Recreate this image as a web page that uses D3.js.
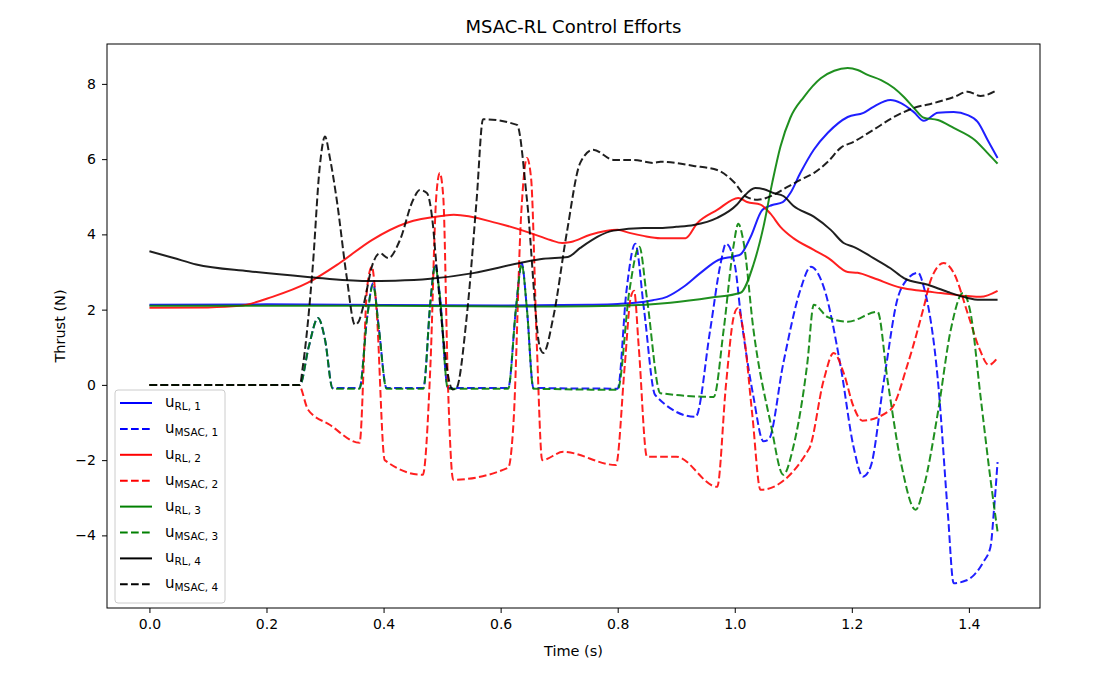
<!DOCTYPE html>
<html>
<head>
<meta charset="utf-8">
<script src="https://cdn.jsdelivr.net/npm/d3@7"></script>
<style>
  body { margin: 0; background: white; }
  text { font-family: "DejaVu Sans", sans-serif; fill: #000; }
</style>
</head>
<body>
<div id="container"></div>
<script>
// values: [time (s), thrust (N)]
let rl1 = [[0,2.13],[0.2,2.14],[0.4,2.12],[0.6,2.11],[0.75,2.13],[0.8,2.15],[0.83,2.18],[0.86,2.25],[0.884,2.34],[0.912,2.6],[0.941,2.97],[0.972,3.32],[1.0,3.42],[1.01,3.47],[1.027,3.93],[1.047,4.65],[1.064,4.78],[1.082,4.86],[1.095,5.1],[1.112,5.63],[1.135,6.25],[1.159,6.7],[1.193,7.12],[1.22,7.23],[1.237,7.39],[1.266,7.57],[1.284,7.49],[1.306,7.25],[1.323,7.02],[1.347,7.23],[1.374,7.25],[1.398,7.17],[1.415,6.99],[1.432,6.51],[1.449,6.03]];

let msac1 = [[0,0],[0.257,0],[0.272,1.0],[0.288,1.78],[0.3,1.2],[0.313,-0.08],[0.359,-0.08],[0.372,1.8],[0.382,2.7],[0.392,1.5],[0.405,-0.08],[0.468,-0.08],[0.48,2.2],[0.488,3.2],[0.496,2.4],[0.51,-0.08],[0.613,-0.08],[0.626,2.0],[0.636,3.24],[0.645,2.0],[0.656,-0.08],[0.8,-0.1],[0.815,2.5],[0.83,3.75],[0.845,2.0],[0.864,-0.27],[0.933,-0.85],[0.958,1.46],[0.976,3.24],[0.985,3.75],[1.0,3.2],[1.01,1.9],[1.032,-0.32],[1.049,-1.5],[1.058,-1.45],[1.083,0.58],[1.112,2.52],[1.13,3.14],[1.152,2.6],[1.181,0.48],[1.203,-1.65],[1.219,-2.44],[1.232,-2.18],[1.255,0.13],[1.279,2.34],[1.29,2.71],[1.313,2.98],[1.323,2.6],[1.347,0.13],[1.364,-3.4],[1.374,-5.27],[1.395,-5.2],[1.409,-5.05],[1.425,-4.7],[1.437,-4.3],[1.443,-3.3],[1.449,-2.05]];

let rl2 = [[0,2.05],[0.1,2.06],[0.154,2.1],[0.21,2.34],[0.27,2.71],[0.325,3.24],[0.38,3.85],[0.44,4.31],[0.5,4.49],[0.52,4.52],[0.594,4.3],[0.65,4.04],[0.685,3.85],[0.705,3.77],[0.72,3.8],[0.753,3.99],[0.8,4.12],[0.82,4.04],[0.844,3.96],[0.873,3.9],[0.916,3.9],[0.936,4.3],[0.97,4.65],[1.006,4.97],[1.021,4.86],[1.044,4.79],[1.061,4.55],[1.078,4.2],[1.1,3.9],[1.135,3.59],[1.16,3.37],[1.193,3.0],[1.21,2.98],[1.237,2.84],[1.284,2.58],[1.318,2.5],[1.352,2.44],[1.398,2.36],[1.42,2.34],[1.449,2.5]];

let msac2 = [[0,0],[0.255,0],[0.271,-0.66],[0.308,-1.06],[0.359,-1.54],[0.372,2.6],[0.38,3.14],[0.388,2.0],[0.402,-2.0],[0.467,-2.39],[0.48,0.5],[0.49,5.0],[0.496,5.63],[0.502,5.0],[0.51,0],[0.519,-2.52],[0.613,-2.2],[0.622,-1.0],[0.635,4.5],[0.645,6.03],[0.652,5.5],[0.662,1.0],[0.671,-2.0],[0.707,-1.78],[0.797,-2.13],[0.812,0.5],[0.822,2.3],[0.828,2.5],[0.836,1.0],[0.85,-1.91],[0.9,-1.91],[0.97,-2.71],[0.985,0.0],[0.998,1.8],[1.005,2.04],[1.015,1.4],[1.03,-0.8],[1.044,-2.79],[1.127,-1.7],[1.152,0.13],[1.169,0.85],[1.186,0.32],[1.203,-0.58],[1.218,-0.95],[1.266,-0.66],[1.296,0.58],[1.323,2.07],[1.335,2.79],[1.357,3.24],[1.374,2.98],[1.398,1.9],[1.417,1.0],[1.434,0.53],[1.449,0.72]];

let rl3 = [[0,2.1],[0.4,2.1],[0.7,2.08],[0.8,2.1],[0.89,2.18],[0.96,2.32],[1.01,2.45],[1.032,3.2],[1.049,4.2],[1.064,5.37],[1.078,6.33],[1.095,7.1],[1.118,7.65],[1.147,8.15],[1.17,8.35],[1.193,8.42],[1.21,8.37],[1.227,8.24],[1.25,8.1],[1.272,7.89],[1.289,7.65],[1.306,7.36],[1.323,7.1],[1.347,7.04],[1.374,6.83],[1.41,6.51],[1.432,6.16],[1.449,5.88]];

let msac3 = [[0,0],[0.257,0],[0.272,1.0],[0.288,1.78],[0.3,1.2],[0.313,-0.1],[0.359,-0.1],[0.372,1.8],[0.382,2.65],[0.392,1.5],[0.405,-0.1],[0.468,-0.1],[0.48,2.2],[0.488,3.15],[0.496,2.4],[0.51,-0.1],[0.613,-0.1],[0.626,2.0],[0.636,3.2],[0.645,2.0],[0.656,-0.1],[0.8,-0.13],[0.82,2.5],[0.837,3.67],[0.85,2.3],[0.873,-0.22],[0.964,-0.32],[0.981,1.46],[0.998,3.7],[1.006,4.28],[1.015,3.8],[1.032,1.46],[1.061,-1.0],[1.083,-2.39],[1.1,-1.65],[1.124,0.58],[1.135,2.13],[1.159,1.8],[1.193,1.68],[1.244,1.94],[1.261,0.13],[1.284,-2.07],[1.309,-3.32],[1.323,-2.71],[1.347,-0.74],[1.369,1.46],[1.39,2.44],[1.403,1.9],[1.42,-0.32],[1.437,-2.52],[1.449,-3.9]];

let rl4 = [[0,3.55],[0.04,3.38],[0.08,3.2],[0.17,3.02],[0.27,2.87],[0.37,2.76],[0.42,2.77],[0.48,2.82],[0.553,2.97],[0.633,3.24],[0.673,3.35],[0.715,3.4],[0.736,3.64],[0.793,4.1],[0.844,4.17],[0.873,4.17],[0.9,4.2],[0.93,4.25],[0.97,4.44],[1.003,4.78],[1.015,5.0],[1.035,5.23],[1.05,5.2],[1.066,5.1],[1.083,5.02],[1.1,4.76],[1.135,4.47],[1.164,4.12],[1.186,3.77],[1.203,3.67],[1.237,3.37],[1.266,3.1],[1.289,2.84],[1.33,2.66],[1.364,2.47],[1.398,2.31],[1.415,2.26],[1.449,2.26]];

let msac4 = [[0,0],[0.257,0],[0.262,0.48],[0.279,3.14],[0.291,5.8],[0.3,6.6],[0.308,6.06],[0.32,4.92],[0.337,2.87],[0.351,1.6],[0.358,1.7],[0.365,2.07],[0.382,3.24],[0.394,3.5],[0.408,3.37],[0.428,3.85],[0.45,4.9],[0.462,5.18],[0.474,5.1],[0.484,4.3],[0.49,3.24],[0.518,-0.12],[0.524,-0.1],[0.542,1.8],[0.559,4.92],[0.57,7.06],[0.628,6.91],[0.645,4.92],[0.667,1.0],[0.673,0.85],[0.69,1.8],[0.713,4.04],[0.736,5.9],[0.758,6.25],[0.793,5.98],[0.827,5.98],[0.861,5.9],[0.873,5.93],[0.93,5.82],[0.97,5.71],[0.998,5.4],[1.02,5.0],[1.039,4.92],[1.066,5.05],[1.09,5.26],[1.112,5.45],[1.135,5.63],[1.159,5.93],[1.181,6.3],[1.203,6.46],[1.237,6.78],[1.272,7.12],[1.306,7.36],[1.34,7.49],[1.374,7.65],[1.398,7.79],[1.42,7.68],[1.449,7.84]];

let xTicks = [0, 0.2, 0.4, 0.6, 0.8, 1.0, 1.2, 1.4];
let yTicks = [-4, -2, 0, 2, 4, 6, 8];

let series = [
  { data: rl1,   color: "#0000ff", dashed: false, sub: "RL, 1" },
  { data: msac1, color: "#0000ff", dashed: true,  sub: "MSAC, 1" },
  { data: rl2,   color: "#ff0000", dashed: false, sub: "RL, 2" },
  { data: msac2, color: "#ff0000", dashed: true,  sub: "MSAC, 2" },
  { data: rl3,   color: "#008000", dashed: false, sub: "RL, 3" },
  { data: msac3, color: "#008000", dashed: true,  sub: "MSAC, 3" },
  { data: rl4,   color: "#000000", dashed: false, sub: "RL, 4" },
  { data: msac4, color: "#000000", dashed: true,  sub: "MSAC, 4" }
];

let w = 1099;
let h = 674;
let plotLeft = 107, plotRight = 1040, plotTop = 44, plotBottom = 608;

let viz = d3.select("#container")
  .append("svg")
    .attr("width", w)
    .attr("height", h)
    .style("background-color", "white")
;

let xScale = d3.scaleLinear().domain([-0.0725, 1.5215]).range([plotLeft, plotRight]);
let yScale = d3.scaleLinear().domain([-5.93, 9.06]).range([plotBottom, plotTop]);

// lines
let line = d3.line()
  .x(d => xScale(d[0]))
  .y(d => yScale(d[1]))
  .curve(d3.curveMonotoneX);

viz.selectAll(".series").data(series).enter()
  .append("path")
    .classed("series", true)
    .attr("d", d => line(d.data))
    .attr("fill", "none")
    .attr("stroke", d => d.color)
    .attr("stroke-opacity", 0.88)
    .attr("stroke-width", 2)
    .attr("stroke-dasharray", d => d.dashed ? "7.7,3.3" : null)
;

// axes
let xAxis = d3.axisBottom(xScale).tickValues(xTicks).tickFormat(d3.format(".1f")).tickSizeOuter(0).tickSize(5).tickPadding(6);
let yAxis = d3.axisLeft(yScale).tickValues(yTicks).tickFormat(d3.format("d")).tickSizeOuter(0).tickSize(5).tickPadding(6);

let gx = viz.append("g").attr("transform", "translate(0," + plotBottom + ")").call(xAxis);
let gy = viz.append("g").attr("transform", "translate(" + plotLeft + ",0)").call(yAxis);
[gx, gy].forEach(g => {
  g.select(".domain").remove();
  g.selectAll("line").attr("stroke", "#000").attr("stroke-width", 1);
  g.selectAll("text").style("font-family", "DejaVu Sans").style("font-size", "14px").attr("fill", "#000");
});

// frame
viz.append("rect")
  .attr("x", plotLeft)
  .attr("y", plotTop)
  .attr("width", plotRight - plotLeft)
  .attr("height", plotBottom - plotTop)
  .attr("fill", "none")
  .attr("stroke", "#000")
  .attr("stroke-width", 1)
;

// labels
viz.append("text")
  .attr("x", (plotLeft + plotRight) / 2)
  .attr("y", 33)
  .attr("text-anchor", "middle")
  .style("font-size", "18px")
  .text("MSAC-RL Control Efforts");

viz.append("text")
  .attr("x", (plotLeft + plotRight) / 2)
  .attr("y", 656)
  .attr("text-anchor", "middle")
  .style("font-size", "14.5px")
  .text("Time (s)");

viz.append("text")
  .attr("transform", "translate(65," + ((plotTop + plotBottom) / 2) + ") rotate(-90)")
  .attr("text-anchor", "middle")
  .style("font-size", "14.5px")
  .text("Thrust (N)");

// legend
let legend = viz.append("g").attr("transform", "translate(115,390)");
legend.append("rect")
  .attr("width", 110)
  .attr("height", 213)
  .attr("rx", 3)
  .attr("fill", "white")
  .attr("fill-opacity", 0.8)
  .attr("stroke", "#cccccc")
  .attr("stroke-width", 1)
;

let items = legend.selectAll(".item").data(series).enter()
  .append("g")
    .classed("item", true)
    .attr("transform", (d, i) => "translate(0," + (13 + i * 25.9) + ")")
;

items.append("line")
  .attr("x1", 5)
  .attr("x2", 37)
  .attr("stroke", d => d.color)
  .attr("stroke-width", 2)
  .attr("stroke-dasharray", d => d.dashed ? "7.7,3.3" : null)
;

let labels = items.append("text")
  .attr("x", 50)
  .attr("y", 4)
  .style("font-size", "15px")
;
labels.append("tspan").text("u");
labels.append("tspan")
  .attr("dy", 3)
  .style("font-size", "10.5px")
  .text(d => d.sub);
</script>
</body>
</html>
